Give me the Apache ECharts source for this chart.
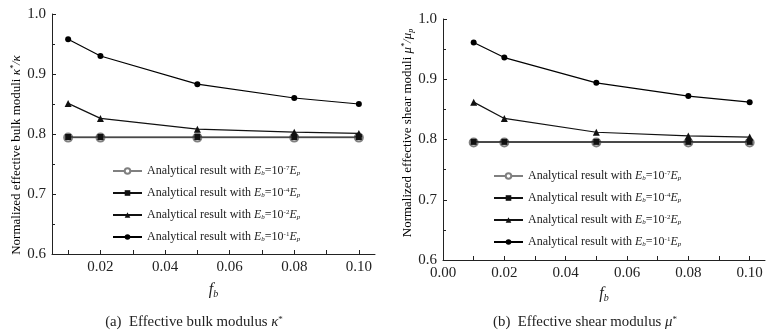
<!DOCTYPE html>
<html><head><meta charset="utf-8">
<script src="https://cdn.jsdelivr.net/npm/echarts@6/dist/echarts.min.js"></script>
<style>html,body{margin:0;padding:0;background:#fff}#c{width:772px;height:334px}</style>
</head><body><div id="c"></div>
<script>
var fb = [0.01, 0.02, 0.05, 0.08, 0.10];
var bulkE7 = [0.794, 0.794, 0.794, 0.794, 0.794];
var bulkE4 = [0.795, 0.795, 0.795, 0.795, 0.795];
var bulkE2 = [0.851, 0.826, 0.808, 0.803, 0.801];
var bulkE1 = [0.958, 0.930, 0.883, 0.860, 0.850];
var shearE7 = [0.795, 0.795, 0.795, 0.795, 0.795];
var shearE4 = [0.796, 0.796, 0.796, 0.796, 0.796];
var shearE2 = [0.862, 0.835, 0.812, 0.806, 0.804];
var shearE1 = [0.961, 0.936, 0.894, 0.872, 0.862];
var xLabelsA = [0.02, 0.04, 0.06, 0.08, 0.10];
var xLabelsB = [0.00, 0.02, 0.04, 0.06, 0.08, 0.10];
var xTicks = [0.01, 0.02, 0.03, 0.04, 0.05, 0.06, 0.07, 0.08, 0.09, 0.10];
var exps = ['-7', '-4', '-2', '-1'];

var FONT = "'Liberation Serif', 'Times New Roman', serif";
var chart = echarts.init(document.getElementById('c'), null, {renderer: 'canvas'});

function pairs(v) { return fb.map(function (x, i) { return [x, v[i]]; }); }

var styles = [
  {symbol: 'emptyCircle', size: 8, color: '#808080', z: 2},
  {symbol: 'rect', size: 6, color: '#111', z: 4},
  {symbol: 'triangle', size: 7, color: '#111', z: 3},
  {symbol: 'circle', size: 6, color: '#000', z: 3}
];

function mkSeries(prefix, arrs, idx) {
  return arrs.map(function (arr, i) {
    var s = styles[i];
    return {
      name: prefix + exps[i], type: 'line', xAxisIndex: idx, yAxisIndex: idx,
      data: pairs(arr), symbol: s.symbol, symbolSize: s.size,
      lineStyle: {color: s.color, width: 1.2},
      itemStyle: {color: s.color, borderColor: s.color, borderWidth: i === 0 ? 1.2 : 0},
      z: s.z,
      animation: false
    };
  });
}

var rich = {
  t: {fontFamily: FONT, fontSize: 12, color: '#222'},
  i: {fontFamily: FONT, fontSize: 12, fontStyle: 'italic', color: '#222'},
  sub: {fontFamily: FONT, fontSize: 7, fontStyle: 'italic', color: '#222', verticalAlign: 'bottom', padding: [5, 0, 0, 0]},
  sup: {fontFamily: FONT, fontSize: 7, color: '#222', verticalAlign: 'top', padding: [0, 0, 5, 0]}
};

function legendFmt(name) {
  var e = name.slice(1);
  return '{t|Analytical result with }{i|E}{sub|b}{t|=10}{sup|' + e + '}{i|E}{sub|p}';
}

function mkLegend(prefix, left, top) {
  return {
    orient: 'vertical', left: left, top: top, itemWidth: 29, itemHeight: 7, itemGap: 10,
    data: exps.map(function (e) { return prefix + e; }),
    formatter: legendFmt, textStyle: {rich: rich},
    selectedMode: false
  };
}

function mkX(idx, min, max, labels, nameGap) {
  return {
    type: 'value', gridIndex: idx, min: min, max: max,
    name: '{i|f}{s|b}', nameLocation: 'middle', nameGap: nameGap,
    nameTextStyle: {rich: {i: {fontFamily: FONT, fontSize: 16, fontStyle: 'italic', color: '#222'},
      s: {fontFamily: FONT, fontSize: 10, fontStyle: 'italic', color: '#222', verticalAlign: 'bottom', padding: [8, 0, 0, 0]}}},
    axisLine: {lineStyle: {color: '#222', width: 1}},
    axisTick: {inside: true, length: 4, customValues: xTicks, lineStyle: {color: '#222'}},
    axisLabel: {customValues: labels, fontFamily: FONT, fontSize: 15, color: '#222', margin: 6,
      formatter: function (v) { return v.toFixed(2); }},
    splitLine: {show: false}
  };
}

function mkY(idx) {
  return {
    type: 'value', gridIndex: idx, min: 0.6, max: 1.0, interval: 0.1,
    axisLine: {show: true, lineStyle: {color: '#222', width: 1}},
    axisTick: {show: true, inside: true, length: 4, lineStyle: {color: '#222'}},
    minorTick: {show: true, splitNumber: 2, length: 3, lineStyle: {color: '#222'}},
    axisLabel: {fontFamily: FONT, fontSize: 15, color: '#222', margin: 6,
      formatter: function (v) { return v.toFixed(1); }},
    splitLine: {show: false}
  };
}

var yRich = {
  n: {fontFamily: FONT, fontSize: 13, color: '#222'},
  i: {fontFamily: FONT, fontSize: 13, fontStyle: 'italic', color: '#222'},
  sup: {fontFamily: FONT, fontSize: 8, fontStyle: 'italic', color: '#222', verticalAlign: 'top', padding: [0, 0, 6, 0]},
  sub: {fontFamily: FONT, fontSize: 8, fontStyle: 'italic', color: '#222', verticalAlign: 'bottom', padding: [6, 0, 0, 0]}
};

var capRich = {
  n: {fontFamily: FONT, fontSize: 14.8, fontWeight: 'normal', color: '#222'},
  i: {fontFamily: FONT, fontSize: 14.8, fontWeight: 'normal', fontStyle: 'italic', color: '#222'},
  sup: {fontFamily: FONT, fontSize: 9, fontWeight: 'normal', color: '#222', verticalAlign: 'top', padding: [0, 0, 5, 0]}
};

var option = {
  backgroundColor: '#fff',
  animation: false,
  title: [
    {text: '{n|(a)  Effective bulk modulus }{i|κ}{sup|*}', left: 189, top: 310, textAlign: 'center', textStyle: {fontWeight: 'normal', rich: capRich}},
    {text: '{n|(b)  Effective shear modulus }{i|μ}{sup|*}', left: 580, top: 310, textAlign: 'center', textStyle: {fontWeight: 'normal', rich: capRich}}
  ],
  graphic: [
    {type: 'text', x: 17, y: 155, rotation: Math.PI / 2,
      style: {text: '{n|Normalized effective bulk moduli }{i|κ}{sup|*}{i|/κ}', rich: yRich, align: 'center', verticalAlign: 'middle'}},
    {type: 'text', x: 408, y: 133, rotation: Math.PI / 2,
      style: {text: '{n|Normalized effective shear moduli }{i|μ}{sup|*}{i|/μ}{sub|p}', rich: yRich, align: 'center', verticalAlign: 'middle'}}
  ],
  grid: [
    {left: 52, top: 14, width: 323, height: 240},
    {left: 443, top: 19, width: 322, height: 241}
  ],
  legend: [mkLegend('a', 107, 160), mkLegend('b', 488, 165)],
  xAxis: [mkX(0, 0.005, 0.105, xLabelsA, 27), mkX(1, 0, 0.105, xLabelsB, 25)],
  yAxis: [mkY(0), mkY(1)],
  series: mkSeries('a', [bulkE7, bulkE4, bulkE2, bulkE1], 0).concat(
          mkSeries('b', [shearE7, shearE4, shearE2, shearE1], 1))
};
chart.setOption(option);
</script></body></html>
